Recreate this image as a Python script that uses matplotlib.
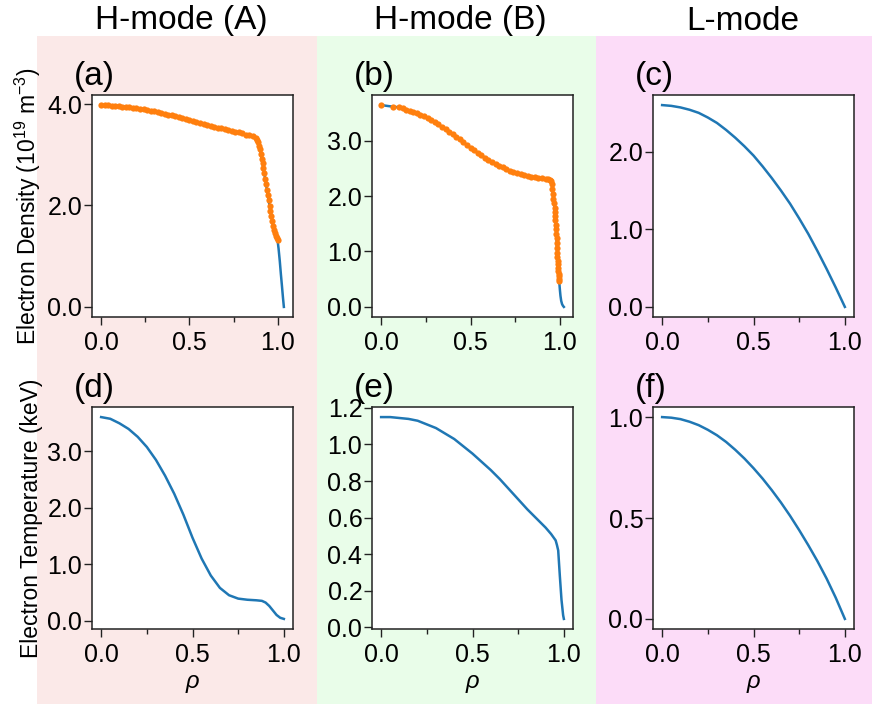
import matplotlib
matplotlib.use("Agg")
import matplotlib.pyplot as plt
from matplotlib.patches import Rectangle
import numpy as np

plt.rcParams['font.family'] = ['Liberation Sans', 'DejaVu Sans']
plt.rcParams['mathtext.fontset'] = 'custom'
plt.rcParams['mathtext.rm'] = 'Liberation Sans'
plt.rcParams['mathtext.it'] = 'Liberation Sans:italic'

BLUE = '#1f77b4'
ORANGE = '#ff7f0e'

# ---- data ----
# (a) H-mode (A) density: fitted points (orange) + blue tail past the last point
rho_a_pts = [0.00, 0.02, 0.04, 0.06, 0.08, 0.10, 0.12, 0.14, 0.16, 0.18,
             0.20, 0.22, 0.24, 0.26, 0.28, 0.30, 0.32, 0.34, 0.36, 0.38,
             0.40, 0.42, 0.44, 0.46, 0.48, 0.50, 0.52, 0.54, 0.56, 0.58,
             0.60, 0.62, 0.64, 0.66, 0.68, 0.70, 0.72, 0.74, 0.76, 0.78,
             0.80, 0.82, 0.84, 0.86, 0.875, 0.884, 0.889, 0.894, 0.899, 0.904,
             0.909, 0.914, 0.919, 0.924, 0.929, 0.934, 0.939, 0.944, 0.949, 0.954,
             0.959, 0.964, 0.969, 0.974, 0.979, 0.984, 0.989, 0.994, 0.999]
ne_a_pts = [3.98, 3.98, 3.98, 3.97, 3.97, 3.96, 3.95, 3.95, 3.94, 3.93,
            3.92, 3.91, 3.90, 3.88, 3.87, 3.86, 3.84, 3.83, 3.81, 3.79,
            3.78, 3.76, 3.74, 3.72, 3.70, 3.68, 3.66, 3.64, 3.62, 3.60,
            3.58, 3.57, 3.55, 3.53, 3.52, 3.50, 3.49, 3.47, 3.45, 3.44,
            3.42, 3.40, 3.39, 3.37, 3.34, 3.30, 3.25, 3.18, 3.11, 3.02,
            2.92, 2.83, 2.74, 2.64, 2.53, 2.42, 2.31, 2.21, 2.10, 1.99,
            1.89, 1.80, 1.70, 1.60, 1.52, 1.45, 1.39, 1.35, 1.32]
rho_a_tail = [1.005, 1.012, 1.018, 1.024, 1.030, 1.035]
ne_a_tail = [1.15, 0.90, 0.65, 0.42, 0.18, 0.00]

# (b) H-mode (B) density
rho_b_pts = [0.00, 0.069, 0.099, 0.12, 0.14, 0.16, 0.18, 0.20, 0.22, 0.24,
             0.26, 0.28, 0.30, 0.32, 0.34, 0.36, 0.38, 0.40, 0.42, 0.44,
             0.46, 0.48, 0.50, 0.52, 0.54, 0.56, 0.58, 0.60, 0.62, 0.64,
             0.66, 0.68, 0.70, 0.72, 0.74, 0.76, 0.78, 0.80, 0.82, 0.84,
             0.86, 0.88, 0.90, 0.92, 0.935, 0.945, 0.950, 0.955, 0.958, 0.961,
             0.964, 0.967, 0.970, 0.972, 0.974, 0.975, 0.977, 0.978, 0.980, 0.981,
             0.982, 0.983, 0.985, 0.986, 0.988, 0.989, 0.991, 0.991, 0.993, 0.994,
             0.996, 0.996]
ne_b_pts = [3.64, 3.61, 3.60, 3.58, 3.56, 3.54, 3.52, 3.50, 3.47, 3.44,
            3.41, 3.37, 3.33, 3.29, 3.25, 3.21, 3.16, 3.11, 3.07, 3.02,
            2.97, 2.92, 2.87, 2.83, 2.78, 2.74, 2.69, 2.65, 2.62, 2.58,
            2.55, 2.52, 2.49, 2.46, 2.44, 2.42, 2.40, 2.38, 2.37, 2.35,
            2.34, 2.33, 2.32, 2.31, 2.30, 2.28, 2.27, 2.22, 2.13, 2.04,
            1.95, 1.87, 1.79, 1.72, 1.64, 1.57, 1.48, 1.40, 1.32, 1.24,
            1.15, 1.06, 0.98, 0.90, 0.83, 0.77, 0.70, 0.64, 0.59, 0.55,
            0.50, 0.46]
rho_b_tail = [0.998, 1.000, 1.003, 1.007, 1.012, 1.017, 1.022]
ne_b_tail = [0.38, 0.30, 0.20, 0.11, 0.05, 0.02, 0.00]

# (c) L-mode density
rho_c = [0.00, 0.05, 0.10, 0.15, 0.20, 0.25, 0.30, 0.35, 0.40, 0.45, 0.50,
         0.55, 0.60, 0.65, 0.70, 0.75, 0.80, 0.85, 0.90, 0.95, 1.00]
ne_c = [2.60, 2.59, 2.57, 2.54, 2.50, 2.44, 2.37, 2.28, 2.18, 2.07, 1.95,
        1.81, 1.66, 1.50, 1.33, 1.14, 0.94, 0.72, 0.49, 0.25, 0.00]

# (d) H-mode (A) temperature
rho_d = [0.00, 0.05, 0.10, 0.15, 0.20, 0.25, 0.30, 0.35, 0.40, 0.45, 0.50,
         0.55, 0.60, 0.65, 0.70, 0.75, 0.80, 0.85, 0.88, 0.90, 0.92, 0.94,
         0.96, 0.98, 1.00]
te_d = [3.61, 3.58, 3.50, 3.40, 3.26, 3.08, 2.85, 2.57, 2.25, 1.88, 1.47,
        1.10, 0.80, 0.58, 0.45, 0.39, 0.37, 0.36, 0.35, 0.32, 0.26, 0.18,
        0.10, 0.05, 0.03]

# (e) H-mode (B) temperature
rho_e = [0.00, 0.05, 0.10, 0.15, 0.20, 0.25, 0.30, 0.35, 0.40, 0.45, 0.50,
         0.55, 0.60, 0.65, 0.70, 0.75, 0.80, 0.85, 0.90, 0.93, 0.955, 0.962,
         0.969, 0.978, 0.987, 0.996, 1.00]
te_e = [1.15, 1.15, 1.145, 1.14, 1.13, 1.11, 1.09, 1.06, 1.03, 0.99, 0.95,
        0.905, 0.86, 0.81, 0.755, 0.70, 0.645, 0.595, 0.545, 0.51, 0.475, 0.45,
        0.42, 0.28, 0.15, 0.065, 0.045]

# (f) L-mode temperature
rho_f = [0.00, 0.05, 0.10, 0.15, 0.20, 0.25, 0.30, 0.35, 0.40, 0.45, 0.50,
         0.55, 0.60, 0.65, 0.70, 0.75, 0.80, 0.85, 0.90, 0.95, 1.00]
te_f = [1.00, 0.997, 0.99, 0.977, 0.96, 0.937, 0.91, 0.877, 0.838, 0.795, 0.747,
        0.695, 0.638, 0.577, 0.511, 0.44, 0.365, 0.286, 0.20, 0.105, 0.00]

col_titles = ['H-mode (A)', 'H-mode (B)', 'L-mode']
panel_tags = ['(a)', '(b)', '(c)', '(d)', '(e)', '(f)']
yticks = [[0, 2, 4], [0, 1, 2, 3], [0, 1, 2],
          [0, 1, 2, 3], [0, 0.2, 0.4, 0.6, 0.8, 1.0, 1.2], [0, 0.5, 1.0]]

W, H = 872, 706
fig = plt.figure(figsize=(W / 100, H / 100), dpi=100)

# column backgrounds (pixel boxes -> figure fractions)
bg_cols = ['#fbe9e8', '#e9fde9', '#fcdcf8']
bg_x = [(37, 317), (317, 596), (596, 872)]
for (x0, x1), c in zip(bg_x, bg_cols):
    fig.patches.append(Rectangle((x0 / W, 1 - 704 / H), (x1 - x0) / W, (704 - 36) / H,
                                 transform=fig.transFigure, facecolor=c,
                                 edgecolor='none', zorder=-5))

title_x = [181, 460, 743]
for tx, t in zip(title_x, col_titles):
    fig.text(tx / W, 1 - 21 / H, t, ha='center', va='center', fontsize=24)

lefts = [92, 372, 653]
tops = [95, 407]
aw, ah = 201, 222

axes = []
for r in range(2):
    for c in range(3):
        ax = fig.add_axes([lefts[c] / W, 1 - (tops[r] + ah) / H, aw / W, ah / H])
        ax.set_zorder(2)
        axes.append(ax)

axes[0].plot(rho_a_pts + rho_a_tail, ne_a_pts + ne_a_tail, color=BLUE, lw=1.8, zorder=2)
axes[0].plot(rho_a_pts, ne_a_pts, 'o', color=ORANGE, ms=4.5, mew=0, zorder=3)
axes[1].plot(rho_b_pts + rho_b_tail, ne_b_pts + ne_b_tail, color=BLUE, lw=1.8, zorder=2)
axes[1].plot(rho_b_pts, ne_b_pts, 'o', color=ORANGE, ms=4.5, mew=0, zorder=3)
axes[2].plot(rho_c, ne_c, color=BLUE, lw=1.8)
axes[3].plot(rho_d, te_d, color=BLUE, lw=1.8)
axes[4].plot(rho_e, te_e, color=BLUE, lw=1.8)
axes[5].plot(rho_f, te_f, color=BLUE, lw=1.8)

for i, ax in enumerate(axes):
    ax.set_facecolor('white')
    ax.set_xticks([0, 0.5, 1.0])
    ax.set_xticks([0.25, 0.75], minor=True)
    ax.set_xticklabels(['0.0', '0.5', '1.0'])
    ax.set_yticks(yticks[i])
    ax.set_yticklabels(['%.1f' % v for v in yticks[i]])
    ax.tick_params(which='major', direction='out', length=6, width=1, labelsize=18,
                   color='#222222')
    ax.tick_params(which='minor', direction='out', length=3.5, width=1, color='#222222')
    ax.tick_params(axis='y', pad=1)
    ax.tick_params(axis='x', pad=4)
    for s in ax.spines.values():
        s.set_color('#222222')
        s.set_linewidth(1.1)
    if i >= 3:
        ax.set_xlabel('ρ', fontsize=17, fontstyle='italic', labelpad=2)
    fig.text((lefts[i % 3] - 18) / W, 1 - (tops[i // 3] - 18) / H, panel_tags[i],
             ha='left', va='center', fontsize=24)

axes[0].set_ylabel('Electron Density (10$^{19}$ m$^{-3}$)', fontsize=16.5, labelpad=3)
axes[3].set_ylabel('Electron Temperature (keV)', fontsize=16.5, labelpad=3)

fig.savefig('out.png', dpi=100)
